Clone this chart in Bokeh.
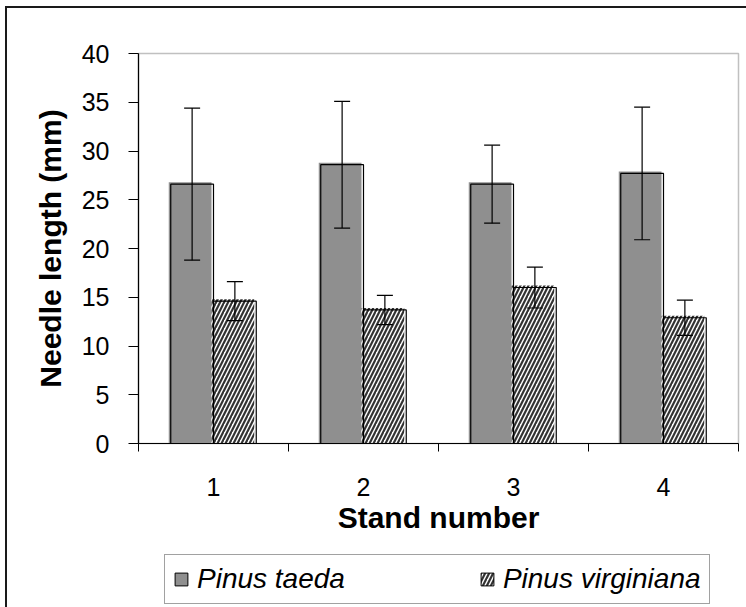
import numpy as np
from bokeh.plotting import figure
from bokeh.layouts import column
from bokeh.models import (ColumnDataSource, Range1d, FixedTicker, Whisker, TeeHead,
                          Legend, LegendItem, GlobalInlineStyleSheet)
from bokeh.embed import file_html
from bokeh.resources import INLINE

# ---- data ----
stands = ["1", "2", "3", "4"]
taeda = [26.6, 28.6, 26.6, 27.7]
taeda_err = [7.8, 6.5, 4.0, 6.8]
virginiana = [14.6, 13.7, 16.0, 12.9]
virginiana_err = [2.0, 1.5, 2.1, 1.8]
series_names = ["Pinus taeda", "Pinus virginiana"]
y_ticks = [0, 5, 10, 15, 20, 25, 30, 35, 40]

x = np.arange(1, len(stands) + 1, dtype=float)
bw = 0.285          # bar width (category units)
dx = 2.0 / 150.0    # shadow offset of fill (2px)
dy = 2.0 / 9.75

GRAY = "#8f8f8f"
FONT = "Liberation Sans"
HATCH = dict(hatch_pattern="/", hatch_color="#333333", hatch_scale=8, hatch_weight=2.2)

p = figure(width=746, height=553, x_range=Range1d(0.5, 4.5), y_range=Range1d(0, 40),
           output_backend="svg", toolbar_location=None,
           min_border_left=138, min_border_right=8, min_border_top=53, min_border_bottom=110)
p.background_fill_color = "white"
p.border_fill_color = None
p.outline_line_color = "#c0c0c0"
p.outline_line_width = 1.5
p.xgrid.visible = False
p.ygrid.visible = False

src_t = ColumnDataSource(dict(
    x=x - bw / 2,
    fl=x - bw - dx, fr=x - dx, ft=np.array(taeda) + dy,
    ol=x - bw, orr=x, ot=taeda,
    upper=np.array(taeda) + np.array(taeda_err),
    lower=np.array(taeda) - np.array(taeda_err)))
src_v = ColumnDataSource(dict(
    x=x + bw / 2,
    fl=x - dx, fr=x + bw - dx, ft=np.array(virginiana) + dy,
    ol=x, orr=x + bw, ot=virginiana,
    upper=np.array(virginiana) + np.array(virginiana_err),
    lower=np.array(virginiana) - np.array(virginiana_err)))

p.quad(left="fl", right="fr", top="ft", bottom=0, source=src_t,
       fill_color=GRAY, line_color=None)
p.quad(left="fl", right="fr", top="ft", bottom=0, source=src_v,
       fill_color="white", line_color=None, **HATCH)
p.quad(left="ol", right="orr", top="ot", bottom=0, source=src_t,
       fill_alpha=0, line_color="black", line_width=1.2)
p.quad(left="ol", right="orr", top="ot", bottom=0, source=src_v,
       fill_alpha=0, line_color="black", line_width=1.2)

for src in (src_t, src_v):
    w = Whisker(source=src, base="x", upper="upper", lower="lower", dimension="height",
                line_color="black", line_width=1.2, level="overlay",
                upper_head=TeeHead(size=16, line_color="black", line_width=1.2),
                lower_head=TeeHead(size=16, line_color="black", line_width=1.2))
    p.add_layout(w)

# y axis
yax = p.yaxis[0]
yax.ticker = FixedTicker(ticks=y_ticks)
yax.axis_label = "Needle length (mm)"
yax.axis_label_text_font = FONT
yax.axis_label_text_font_style = "bold"
yax.axis_label_text_font_size = "30px"
yax.axis_label_text_color = "black"
yax.axis_label_standoff = 12
yax.major_label_text_font = FONT
yax.major_label_text_font_size = "25px"
yax.major_label_text_color = "black"
yax.major_label_standoff = 19
yax.major_tick_out = 10
yax.major_tick_in = 0
yax.minor_tick_out = 0
yax.minor_tick_in = 0
yax.axis_line_color = "black"
yax.axis_line_width = 1.2
yax.major_tick_line_color = "black"

# x axis
xax = p.xaxis[0]
xax.ticker = FixedTicker(ticks=list(x), minor_ticks=list(np.arange(0.5, len(stands) + 1, 1.0)))
xax.major_label_overrides = {float(v): s for v, s in zip(x, stands)}
xax.axis_label = "Stand number"
xax.axis_label_text_font = FONT
xax.axis_label_text_font_style = "bold"
xax.axis_label_text_font_size = "30px"
xax.axis_label_text_color = "black"
xax.axis_label_standoff = 2
xax.major_label_text_font = FONT
xax.major_label_text_font_size = "25px"
xax.major_label_text_color = "black"
xax.major_label_standoff = 26
xax.major_tick_out = 0
xax.major_tick_in = 0
xax.minor_tick_out = 8
xax.minor_tick_in = 0
xax.minor_tick_line_color = "black"
xax.axis_line_color = "black"
xax.axis_line_width = 1.2

# ---- legend strip (separate figure so the legend is not clipped) ----
lg = figure(width=746, height=54, x_range=Range1d(0, 1), y_range=Range1d(0, 1),
            output_backend="svg", toolbar_location=None,
            x_axis_location=None, y_axis_location=None,
            min_border_left=0, min_border_right=0, min_border_top=0, min_border_bottom=0)
lg.background_fill_color = None
lg.border_fill_color = None
lg.outline_line_color = None
lg.xgrid.visible = False
lg.ygrid.visible = False
lt_f = lg.quad(left="ol", right="orr", top="ot", bottom=0, source=src_t,
               fill_color=GRAY, line_color="black", line_width=1, visible=False)
lv_f = lg.quad(left="ol", right="orr", top="ot", bottom=0, source=src_v,
               fill_color="white", line_color="black", line_width=1, visible=False, **HATCH)

legend = Legend(items=[LegendItem(label=series_names[0], renderers=[lt_f]),
                       LegendItem(label=series_names[1], renderers=[lv_f])],
                orientation="horizontal", location=(26, 3), margin=0,
                spacing=134, padding=8, glyph_width=16, glyph_height=16, label_standoff=8,
                label_text_font=FONT, label_text_font_style="italic",
                label_text_font_size="28px", label_text_color="black",
                inactive_fill_alpha=0, click_policy="none",
                border_line_color="#444444", border_line_width=1,
                background_fill_color="white", background_fill_alpha=1)
lg.add_layout(legend)

layout = column(p, lg, spacing=0)
layout.stylesheets = [GlobalInlineStyleSheet(css="html, body { overflow: hidden; }")]
layout.styles = {"background-color": "white",
                 "box-shadow": "inset 5px 6px 0 0 #ffffff, inset 7px 8px 0 0 #1a1a1a"}

open("out.html", "w").write(file_html(layout, INLINE))
